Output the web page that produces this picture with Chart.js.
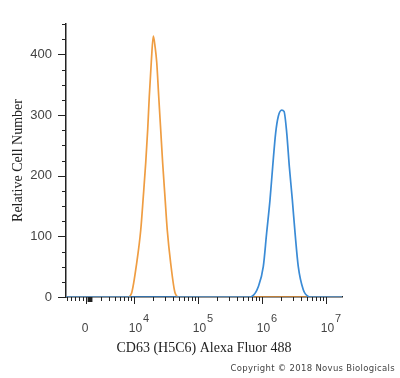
<!DOCTYPE html>
<html>
<head>
<meta charset="utf-8">
<script src="https://cdn.jsdelivr.net/npm/chart.js@4.4.0/dist/chart.umd.min.js"></script>
<style>
  body { margin: 0; background: #fff; }
  #wrap { position: relative; width: 400px; height: 378px; }
  #copy {
    position: absolute; right: 5px; top: 363px;
    font: 8.5px "DejaVu Sans", sans-serif; color: #444; letter-spacing: 0.3px;
  }
</style>
</head>
<body>
<div id="wrap">
  <canvas id="histchart" width="400" height="378"></canvas>
  <div id="copy">Copyright © 2018 Novus Biologicals</div>
</div>
<script>
var histCanvas = document.getElementById("histchart");

/* data: x in display decades (0 sits at 3.25, 10^n at n) */
var orangeX = [2.9375, 3.85, 3.906, 3.964, 4.042, 4.105, 4.145, 4.183, 4.214, 4.239, 4.270, 4.302, 4.330, 4.355, 4.386, 4.417, 4.448, 4.484, 4.520, 4.573, 4.641, 4.70, 7.25];
var orangeCounts = [0, 0, 0, 7, 56, 110, 165, 221, 276, 331, 387, 430, 412, 387, 331, 276, 221, 165, 110, 56, 7, 0, 0];
var blueX = [2.9375, 5.78, 5.839, 5.942, 6.020, 6.073, 6.125, 6.167, 6.214, 6.255, 6.308, 6.344, 6.386, 6.427, 6.474, 6.516, 6.567, 6.645, 6.723, 6.78, 7.25];
var blueCounts = [0, 0, 1, 17, 50, 106, 160, 215, 271, 298, 308, 306, 271, 215, 160, 106, 50, 12, 1, 0, 0];

var xTickValues = [3.25, 4, 5, 6, 7];
var xTickBases = ['0', '10', '10', '10', '10'];
var xTickExps = ['', '4', '5', '6', '7'];
var xMinorTicks = [2.95, 3.02, 3.08, 3.14, 3.20, 3.477, 3.602, 3.699, 3.778, 3.845, 3.903, 3.954,
  4.301, 4.477, 4.602, 4.699, 4.778, 4.845, 4.903, 4.954,
  5.301, 5.477, 5.602, 5.699, 5.778, 5.845, 5.903, 5.954,
  6.301, 6.477, 6.602, 6.699, 6.778, 6.845, 6.903, 6.954];
var xBlobTicks = [3.29, 3.305, 3.32, 3.335];

function toPoints(xs, ys) {
  return xs.map(function (x, i) { return { x: x, y: ys[i] }; });
}

/* tick marks and x labels with superscripts */
var axisDecor = {
  id: 'axisDecor',
  afterDraw: function (chart) {
    var ctx = chart.ctx;
    var xs = chart.scales.x, ys = chart.scales.y;
    var base = ys.getPixelForValue(0);
    var left = xs.left;
    ctx.save();
    ctx.strokeStyle = '#222';
    ctx.lineWidth = 1;
    // y ticks
    for (var v = 0; v <= 450; v += 25) {
      var py = Math.round(ys.getPixelForValue(v)) + 0.5;
      ctx.beginPath();
      ctx.moveTo(left, py);
      ctx.lineTo(left - (v % 100 === 0 ? 8 : 4), py);
      ctx.stroke();
    }
    // x ticks
    xMinorTicks.forEach(function (t) {
      var px = Math.round(xs.getPixelForValue(t)) + 0.5;
      ctx.beginPath(); ctx.moveTo(px, base); ctx.lineTo(px, base + 4); ctx.stroke();
    });
    xTickValues.forEach(function (t) {
      var px = Math.round(xs.getPixelForValue(t)) + 0.5;
      ctx.beginPath(); ctx.moveTo(px, base); ctx.lineTo(px, base + 7); ctx.stroke();
    });
    ctx.lineWidth = 2;
    xBlobTicks.forEach(function (t) {
      var px = xs.getPixelForValue(t);
      ctx.beginPath(); ctx.moveTo(px, base); ctx.lineTo(px, base + 5); ctx.stroke();
    });
    // x labels
    ctx.fillStyle = '#444';
    ctx.textBaseline = 'middle';
    xTickValues.forEach(function (t, i) {
      var px = xs.getPixelForValue(t);
      ctx.font = '12px "Liberation Sans", Arial, sans-serif';
      ctx.textAlign = 'center';
      ctx.fillText(xTickBases[i], px + (xTickExps[i] ? 1.5 : -1), base + 32);
      if (xTickExps[i]) {
        ctx.font = '11px "Liberation Sans", Arial, sans-serif';
        ctx.textAlign = 'left';
        ctx.fillText(xTickExps[i], px + 9, base + 22);
      }
    });
    ctx.restore();
  }
};

var histchart = new Chart(histCanvas, {
  type: 'line',
  data: {
    datasets: [{
      label: 'CD63',
      data: toPoints(blueX, blueCounts),
      borderColor: '#3a8bd6',
      borderWidth: 1.7,
      pointRadius: 0,
      cubicInterpolationMode: 'monotone'
    }, {
      label: 'Isotype',
      data: toPoints(orangeX, orangeCounts),
      borderColor: '#ef9d42',
      borderWidth: 1.7,
      pointRadius: 0,
      cubicInterpolationMode: 'monotone'
    }]
  },
  plugins: [axisDecor],
  options: {
    responsive: false,
    animation: false,
    layout: { padding: { top: 24, right: 58, bottom: 21, left: 0 } },
    plugins: {
      legend: { display: false },
      tooltip: { enabled: false }
    },
    scales: {
      x: {
        type: 'linear',
        min: 2.9375,
        max: 7.25,
        grid: { display: false },
        border: { display: true, color: '#222', width: 1.5 },
        ticks: { display: false },
        afterFit: function (scale) { scale.height = 60; },
        title: {
          display: true,
          text: 'CD63 (H5C6) Alexa Fluor 488',
          color: '#222',
          font: { family: '"Liberation Serif", "Times New Roman", serif', size: 14 },
          padding: { top: 0, bottom: 0 }
        }
      },
      y: {
        min: 0,
        max: 450,
        grid: { display: false },
        border: { display: true, color: '#222', width: 1.5 },
        ticks: {
          stepSize: 25,
          padding: 6,
          color: '#444',
          font: { family: '"Liberation Sans", Arial, sans-serif', size: 13 },
          callback: function (v) { return v % 100 === 0 ? v : ''; }
        },
        afterFit: function (scale) { scale.width = 66; },
        title: {
          display: true,
          text: 'Relative Cell Number',
          color: '#222',
          font: { family: '"Liberation Serif", "Times New Roman", serif', size: 14 },
          padding: { top: 10, bottom: 0 }
        }
      }
    }
  }
});
</script>
</body>
</html>
